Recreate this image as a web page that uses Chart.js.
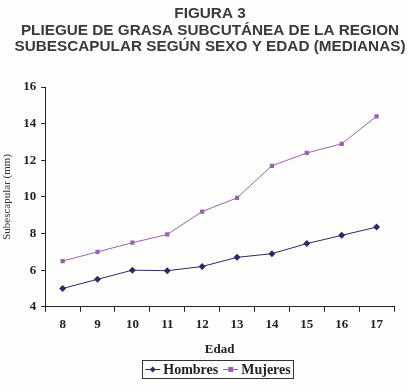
<!DOCTYPE html>
<html>
<head>
<meta charset="utf-8">
<script src="https://cdn.jsdelivr.net/npm/chart.js@4/dist/chart.umd.min.js"></script>
<style>
  html, body { margin: 0; padding: 0; background: #fdfefb; }
  #wrap { width: 409px; height: 386px; }
</style>
</head>
<body>
<div id="wrap"><canvas id="c" width="409" height="386"></canvas></div>
<script>
const edades = ['8', '9', '10', '11', '12', '13', '14', '15', '16', '17'];
const hombres = [5.0, 5.5, 6.0, 5.97, 6.2, 6.7, 6.9, 7.45, 7.9, 8.35];
const mujeres = [6.5, 7.0, 7.5, 7.95, 9.2, 9.95, 11.7, 12.4, 12.9, 14.4];
const tituloLineas = ['FIGURA 3', 'PLIEGUE DE GRASA SUBCUTÁNEA DE LA REGION', 'SUBESCAPULAR SEGÚN SEXO Y EDAD (MEDIANAS)'];

const colHombres = '#2a2a66';
const colMujeres = '#9a62aa';
const serif = '"Liberation Serif", "Times New Roman", serif';

// título centrado un poco a la derecha, como en la figura original
const tituloFigura = {
    id: 'tituloFigura',
    afterDraw(chart) {
        const ctx = chart.ctx;
        ctx.save();
        ctx.font = 'bold 15.3px "Liberation Sans", Arial, sans-serif';
        ctx.fillStyle = '#3a3a3a';
        ctx.textAlign = 'center';
        ctx.textBaseline = 'middle';
        tituloLineas.forEach((t, i) => ctx.fillText(t, 210, 14 + i * 16.5));
        ctx.restore();
    }
};

// leyenda con recuadro, dibujada a mano
const leyendaCaja = {
    id: 'leyendaCaja',
    afterDraw(chart) {
        const ctx = chart.ctx;
        ctx.save();
        ctx.font = 'bold 14px ' + serif;
        ctx.textBaseline = 'middle';
        const items = chart.data.datasets.map(d => ({ label: d.label, color: d.borderColor, style: d.pointStyle }));
        const lineW = 15, gap = 3, sep = 5, padX = 3;
        let total = padX * 2;
        items.forEach((it, i) => {
            it.w = lineW + gap + ctx.measureText(it.label).width;
            total += it.w + (i ? sep : 0);
        });
        const cx = 218, top = 360, h = 18;
        let x = cx - total / 2;
        ctx.strokeStyle = '#333';
        ctx.lineWidth = 1;
        ctx.strokeRect(Math.round(x) + 0.5, top + 0.5, Math.round(total), h);
        x += padX;
        const y = top + h / 2 + 0.5;
        items.forEach((it, i) => {
            if (i) x += sep;
            ctx.strokeStyle = it.color;
            ctx.beginPath();
            ctx.moveTo(x, y);
            ctx.lineTo(x + lineW, y);
            ctx.stroke();
            ctx.fillStyle = it.color;
            ctx.beginPath();
            const mx = x + lineW / 2;
            if (it.style === 'rectRot') {
                ctx.moveTo(mx, y - 3); ctx.lineTo(mx + 3, y); ctx.lineTo(mx, y + 3); ctx.lineTo(mx - 3, y);
            } else {
                ctx.rect(mx - 2.5, y - 2.5, 5, 5);
            }
            ctx.fill();
            ctx.fillStyle = '#222';
            ctx.fillText(it.label, x + lineW + gap, y + 1);
            x += it.w;
        });
        ctx.restore();
    }
};

new Chart(document.getElementById('c'), {
    type: 'line',
    data: {
        labels: edades,
        datasets: [{
            label: 'Hombres',
            data: hombres,
            borderColor: colHombres,
            backgroundColor: colHombres,
            borderWidth: 1,
            pointStyle: 'rectRot',
            pointRadius: 3.5,
            pointBorderWidth: 0,
            tension: 0
        }, {
            label: 'Mujeres',
            data: mujeres,
            borderColor: colMujeres,
            backgroundColor: colMujeres,
            borderWidth: 1,
            pointStyle: 'rect',
            pointRadius: 3,
            pointBorderWidth: 0,
            tension: 0
        }]
    },
    options: {
        responsive: false,
        animation: false,
        layout: { padding: { left: 1, right: 15, top: 87, bottom: 29 } },
        plugins: {
            legend: { display: false },
            tooltip: { enabled: false },
            title: { display: false }
        },
        scales: {
            x: {
                offset: true,
                grid: { offset: true, drawOnChartArea: false, tickLength: 5, color: '#222' },
                border: { color: '#222', width: 1 },
                ticks: { color: '#222', font: { family: serif, size: 13, weight: 'bold' }, padding: 5 },
                title: { display: true, text: 'Edad', color: '#222', font: { family: serif, size: 13, weight: 'bold' }, padding: { top: 4, bottom: 0 } }
            },
            y: {
                min: 4,
                max: 16,
                ticks: { stepSize: 2, color: '#222', font: { family: serif, size: 13, weight: 'bold' }, padding: 5 },
                grid: { drawOnChartArea: false, tickLength: 4, color: '#222' },
                border: { color: '#222', width: 1 },
                title: { display: true, text: 'Subescapular (mm)', color: '#333', font: { family: serif, size: 11 }, padding: { top: 0, bottom: 4 } }
            }
        }
    },
    plugins: [tituloFigura, leyendaCaja]
});
</script>
</body>
</html>
